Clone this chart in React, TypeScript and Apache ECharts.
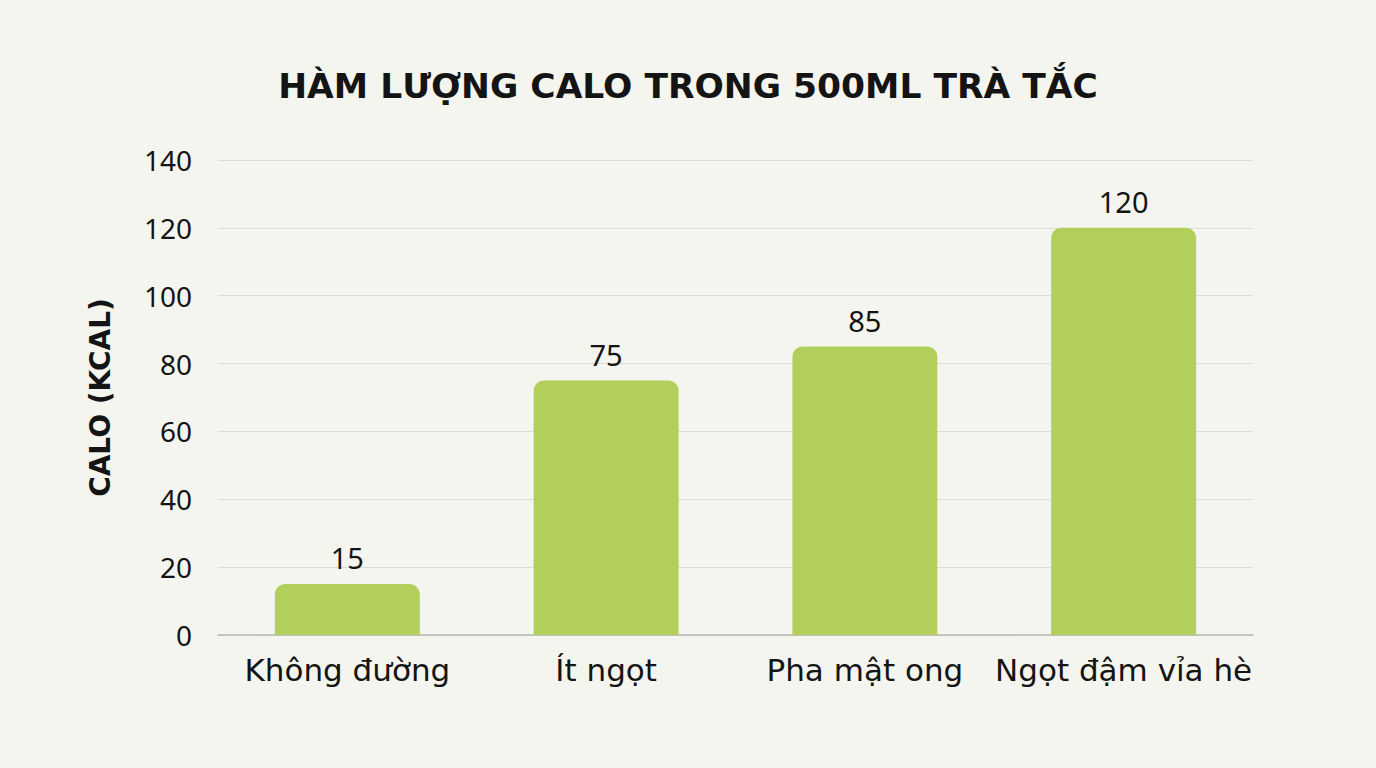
import { useEffect, useRef } from "react";
import * as echarts from "echarts";

const categories = ["Không đường", "Ít ngọt", "Pha mật ong", "Ngọt đậm vỉa hè"];
const calories = [15, 75, 85, 120];
const yTicks = { min: 0, max: 140, interval: 20 };

const FONT = "'Noto Sans', sans-serif";
const WIDE = "'DejaVu Sans', sans-serif";
const INK = "#141414";

export default function App() {
  const elRef = useRef<HTMLDivElement>(null);

  useEffect(() => {
    if (!elRef.current) return;
    const chart = echarts.init(elRef.current, undefined, { renderer: "svg" });
    chart.setOption({
      animation: false,
      backgroundColor: "#f3f5ee",
      textStyle: { fontFamily: FONT },
      title: {
        text: "HÀM LƯỢNG CALO TRONG 500ML TRÀ TẮC",
        left: "center",
        top: 63,
        textStyle: { fontFamily: WIDE, fontSize: 34.5, fontWeight: "bold", color: INK },
      },
      grid: { left: 218, right: 123, top: 160, bottom: 133 },
      xAxis: {
        type: "category",
        data: categories,
        axisLine: { lineStyle: { color: "#b8b8b2", width: 1.5 } },
        axisTick: { show: false },
        axisLabel: { color: INK, fontSize: 31, margin: 19, fontFamily: WIDE, interval: 0 },
      },
      yAxis: {
        type: "value",
        min: yTicks.min,
        max: yTicks.max,
        interval: yTicks.interval,
        name: "CALO (KCAL)",
        nameLocation: "middle",
        nameGap: 104,
        nameTextStyle: { color: INK, fontSize: 28, fontWeight: "bold", fontFamily: WIDE },
        axisLine: { show: false },
        axisTick: { show: false },
        axisLabel: { color: INK, fontSize: 28, margin: 26, fontFamily: FONT },
        splitLine: { lineStyle: { color: "#dcdcd6", width: 1.2 } },
      },
      series: [
        {
          type: "bar",
          data: calories,
          barWidth: "56%",
          itemStyle: { color: "#b2cf5b", borderRadius: [10, 10, 0, 0] },
          label: { show: true, position: "top", distance: 12, color: INK, fontSize: 29, fontFamily: FONT },
        },
      ],
    });
    const onResize = () => chart.resize();
    window.addEventListener("resize", onResize);
    return () => {
      window.removeEventListener("resize", onResize);
      chart.dispose();
    };
  }, []);

  return <div ref={elRef} style={{ width: 1376, height: 768, position: "fixed", left: 0, top: 0 }} />;
}
